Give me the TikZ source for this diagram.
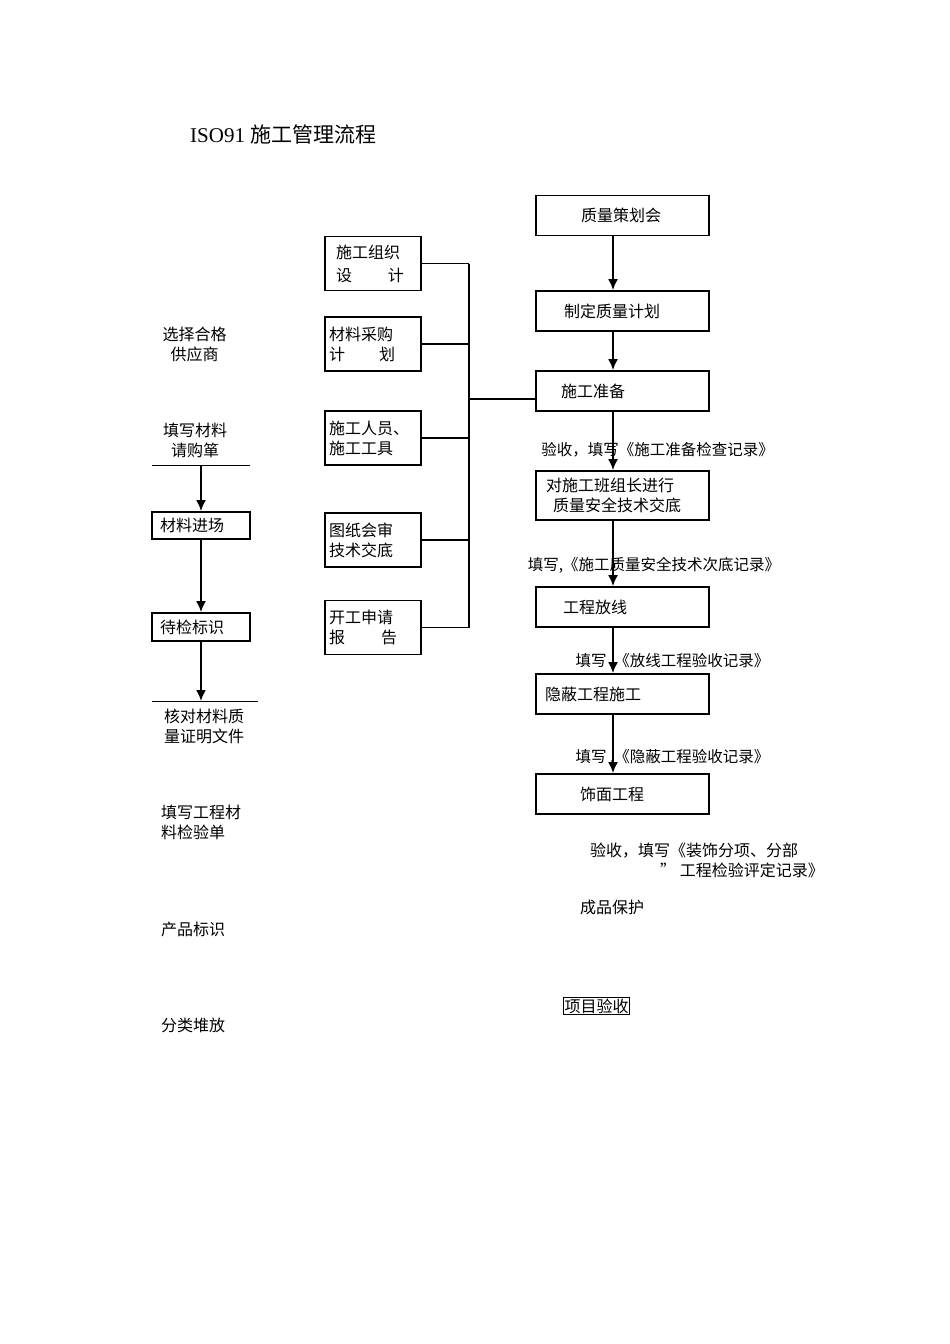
\documentclass[tikz,border=0pt]{standalone}
\usepackage{fontspec}
\setmainfont{Liberation Serif}
\newfontfamily\cjk{Noto Sans CJK SC}
\usepackage{tikz}
\usetikzlibrary{arrows.meta, positioning}

\tikzset{
	box/.style={draw, line width=1.8pt, inner sep=0pt},
	rbox/.style={box, minimum width=173pt, minimum height=40pt, text width=165pt, inner xsep=4pt, align=left},
	mbox/.style={box, minimum width=96pt, minimum height=54pt, text width=88pt, inner xsep=4pt, align=left},
	lbox/.style={box, minimum width=98pt, minimum height=27pt, text width=90pt, inner xsep=4pt, align=left},
	txt/.style={inner sep=0pt, align=left},
	lab/.style={inner sep=0pt, font=\cjk\fontsize{15.5pt}{19pt}\selectfont},
	flow/.style={->, line width=1.8pt},
	bus/.style={line width=1.8pt},
	rule/.style={line width=1pt}
}

\begin{document}
\begin{tikzpicture}[x=1pt, y=-1pt, font=\cjk\fontsize{16pt}{20pt}\selectfont,
	>={Latex[length=11pt,width=10pt]}]
	\useasboundingbox (0,0) rectangle (950,1344);

	% title
	\node[txt, anchor=west, font=\cjk\fontsize{21pt}{24pt}\selectfont] (title) at (190,134) {{\rmfamily ISO91 }施工管理流程};

	% right column
	\node[rbox] (zc) at (622.5,215.5) {\hspace*{41pt}质量策划会};
	\node[rbox] (zd) at (622.5,311) {\hspace*{24pt}制定质量计划};
	\node[rbox] (sz) at (622.5,391) {\hspace*{21pt}施工准备};
	\node[rbox, minimum height=49pt] (jd) at (622.5,495.5) {\hspace*{6pt}对施工班组长进行\\\hspace*{13pt}质量安全技术交底};
	\node[rbox] (fx) at (622.5,607) {\hspace*{23pt}工程放线};
	\node[rbox] (yb) at (622.5,694) {\hspace*{5pt}隐蔽工程施工};
	\node[rbox] (sm) at (622.5,794) {\hspace*{40pt}饰面工程};

	\foreach \a/\b in {zc/zd, zd/sz, sz/jd, jd/fx, fx/yb, yb/sm}
		\draw[flow] ([xshift=-9.5pt]\a.south) -- ([xshift=-9.5pt]\b.north);

	\node[lab] (l1) at (657.5,450) {验收，填写《施工准备检查记录》};
	\node[lab] (l2) at (654,565) {填写,《施工质量安全技术次底记录》};
	\node[lab] (l3) at (672.5,661) {填写 ,《放线工程验收记录》};
	\node[lab] (l4) at (672.5,757) {填写 ,《隐蔽工程验收记录》};
	\node[txt, anchor=north west] (l5) at (590,843) {验收，填写《装饰分项、分部\\\hspace*{70pt}” 工程检验评定记录》};
	\node[txt, anchor=west] (cb) at (580,907) {成品保护};
	\node[draw, line width=0.8pt, inner sep=1pt] (ys) at (596.5,1006) {项目验收};

	% middle column
	\node[mbox] (sg) at (373,263.5) {\hspace*{7pt}施工组织\\[3pt]\hspace*{7pt}设\hspace{36pt}计};
	\node[mbox] (cl) at (373,344) {材料采购\\计\hspace{34pt}划};
	\node[mbox] (ry) at (373,438) {施工人员、\\施工工具};
	\node[mbox] (tz) at (373,540) {图纸会审\\技术交底};
	\node[mbox] (kg) at (373,627.5) {开工申请\\报\hspace{36pt}告};

	\coordinate (bb) at (469,0);
	\foreach \n in {sg, cl, ry, tz, kg}
		\draw[bus] (\n.east) -- (\n.east -| bb);
	\draw[bus] (sg.east -| bb) -- (kg.east -| bb);
	\draw[bus] ([yshift=-8pt]sz.west) -- ([yshift=-8pt]sz.west -| bb);

	% left column
	\node[txt, align=center] (xz) at (194.5,344.5) {选择合格\\供应商};
	\node[txt, align=center] (tx) at (195,440.5) {填写材料\\请购箪};
	\coordinate (q1) at (201,465);
	\draw[rule] ([xshift=-49pt]q1) -- ([xshift=49pt]q1);
	\node[lbox] (jc) at (201,525.5) {\hspace*{4pt}材料进场};
	\node[lbox, minimum height=28pt] (dj) at (201,627) {\hspace*{4pt}待检标识};
	\coordinate (q2) at (201,701);
	\draw[rule] ([xshift=-49pt]q2) -- ([xshift=57pt]q2);
	\draw[flow] (q1) -- (jc.north);
	\draw[flow] (jc.south) -- (dj.north);
	\draw[flow] (dj.south) -- (q2);
	\node[txt, anchor=west] (hd) at (164,726) {核对材料质\\量证明文件};
	\node[txt, anchor=west] (tg) at (161,822.5) {填写工程材\\料检验单};
	\node[txt, anchor=west] (cp) at (161,929) {产品标识};
	\node[txt, anchor=west] (fl) at (161,1025) {分类堆放};
\end{tikzpicture}
\end{document}
